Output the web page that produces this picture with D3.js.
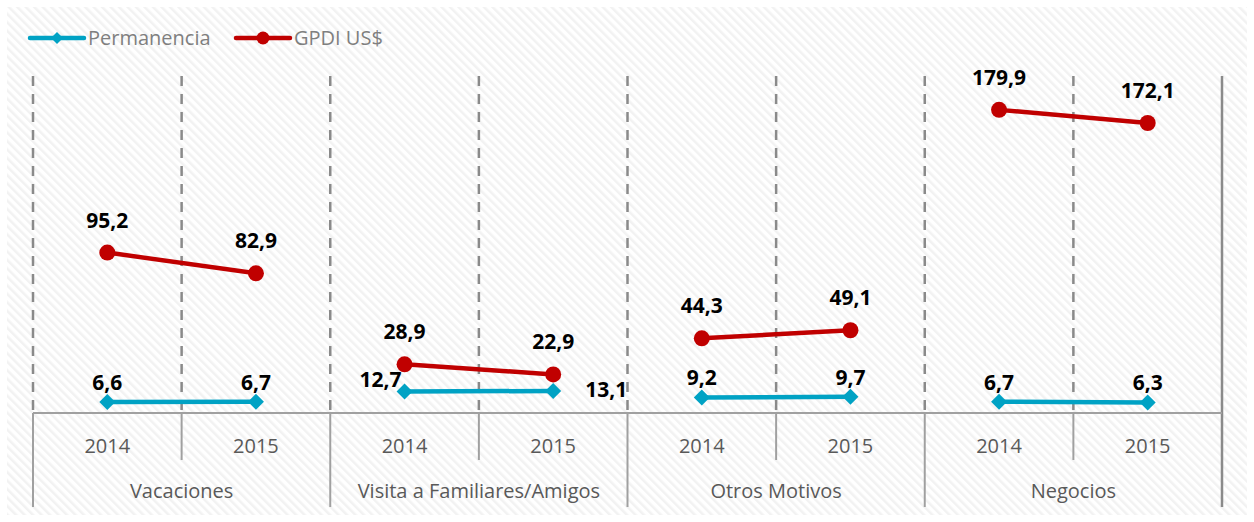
<!DOCTYPE html>
<html>
<head>
<meta charset="utf-8">
<script src="https://cdn.jsdelivr.net/npm/d3@7"></script>
<style>
  body { margin: 0; background: #fff; }
  text { font-family: "Open Sans", "Noto Sans", sans-serif; }
</style>
</head>
<body>
<div id="chart"></div>
<script>
// motivos de viaje y años
const groups = ['Vacaciones', 'Visita a Familiares/Amigos', 'Otros Motivos', 'Negocios'];
const years  = ['2014', '2015'];
// valores por punto (grupo x año)
const permanencia = [6.6, 6.7, 12.7, 13.1, 9.2, 9.7, 6.7, 6.3];
const gpdi        = [95.2, 82.9, 28.9, 22.9, 44.3, 49.1, 179.9, 172.1];
// donde va la etiqueta de permanencia (como en el excel original)
const permLabelPos = ['above', 'above', 'left', 'right', 'above', 'above', 'above', 'above'];

const width  = 1254;
const height = 522;
const plot   = { left: 33, right: 1222, top: 76, bottom: 413 };
const blue = '#00a2c4';
const red  = '#c00000';

const fmt = v => d3.format('.1f')(v).replace('.', ',');

// cada punto = grupo + año
const points = [];
groups.forEach((g, gi) => years.forEach((y, yi) => points.push({ key: gi + '-' + y, group: g, year: y, i: gi * years.length + yi })));

const x = d3.scaleBand()
  .domain(points.map(d => d.key))
  .range([plot.left, plot.right]);
const xg = d3.scaleBand()
  .domain(groups)
  .range([plot.left, plot.right]);
const y = d3.scaleLinear()
  .domain([0, 200])
  .range([plot.bottom, plot.top]);

const cx = d => x(d.key) + x.bandwidth() / 2;

// rombo hecho a mano, los de d3 quedan chicos
const diamondPath = r => `M0,${-r}L${r},0L0,${r}L${-r},0Z`;

const svg = d3.select('#chart').append('svg')
  .attr('width', width)
  .attr('height', height);

// fondo rayado
const defs = svg.append('defs');
const pat = defs.append('pattern')
  .attr('id', 'hatch')
  .attr('patternUnits', 'userSpaceOnUse')
  .attr('width', 6).attr('height', 6)
  .attr('patternTransform', 'rotate(-45)');
pat.append('rect').attr('width', 6).attr('height', 6).attr('fill', '#fff');
pat.append('rect').attr('width', 2.5).attr('height', 6).attr('fill', '#f2f2f2');

svg.append('rect')
  .attr('x', 7).attr('y', 7)
  .attr('width', width - 14).attr('height', height - 14)
  .attr('fill', 'url(#hatch)');

// lineas verticales punteadas
const boundaries = points.map(d => x(d.key));
svg.append('g').selectAll('line')
  .data(boundaries)
  .join('line')
  .attr('x1', d => d).attr('x2', d => d)
  .attr('y1', plot.top).attr('y2', plot.bottom)
  .attr('stroke', '#8a8a8a')
  .attr('stroke-width', 2.5)
  .attr('stroke-dasharray', '10,8');

// borde derecho solido
svg.append('line')
  .attr('x1', plot.right).attr('x2', plot.right)
  .attr('y1', plot.top).attr('y2', 507)
  .attr('stroke', '#8a8a8a').attr('stroke-width', 2.5);

// eje x con dos niveles
const axisCol = '#a0a0a0';
svg.append('line')
  .attr('x1', plot.left).attr('x2', plot.right)
  .attr('y1', plot.bottom).attr('y2', plot.bottom)
  .attr('stroke', axisCol).attr('stroke-width', 2);

svg.append('g').selectAll('line')
  .data(groups)
  .join('line')
  .attr('x1', d => xg(d)).attr('x2', d => xg(d))
  .attr('y1', plot.bottom).attr('y2', 507)
  .attr('stroke', axisCol).attr('stroke-width', 2);

svg.append('g').selectAll('line')
  .data(points.filter(d => d.year !== years[0]))
  .join('line')
  .attr('x1', d => x(d.key)).attr('x2', d => x(d.key))
  .attr('y1', plot.bottom).attr('y2', 460)
  .attr('stroke', axisCol).attr('stroke-width', 2);

svg.append('g').selectAll('text')
  .data(points)
  .join('text')
  .attr('x', cx)
  .attr('y', 453)
  .attr('text-anchor', 'middle')
  .attr('font-size', 20)
  .attr('fill', '#595959')
  .text(d => d.year);

svg.append('g').selectAll('text')
  .data(groups)
  .join('text')
  .attr('x', d => xg(d) + xg.bandwidth() / 2)
  .attr('y', 498)
  .attr('text-anchor', 'middle')
  .attr('font-size', 20)
  .attr('fill', '#595959')
  .text(d => d);

// series, una linea por grupo
function drawSeries(values, color, marker) {
  const g = svg.append('g');
  const line = d3.line().x(cx).y(d => y(values[d.i]));
  groups.forEach(gr => {
    g.append('path')
      .datum(points.filter(p => p.group === gr))
      .attr('d', line)
      .attr('fill', 'none')
      .attr('stroke', color)
      .attr('stroke-width', 4.5);
  });
  if (marker === 'circle') {
    g.selectAll('circle')
      .data(points)
      .join('circle')
      .attr('cx', cx)
      .attr('cy', d => y(values[d.i]))
      .attr('r', 8)
      .attr('fill', color);
  } else {
    g.selectAll('path.mk')
      .data(points)
      .join('path')
      .attr('class', 'mk')
      .attr('d', diamondPath(8))
      .attr('transform', d => `translate(${cx(d)},${y(values[d.i])})`)
      .attr('fill', color);
  }
}
drawSeries(permanencia, blue, 'diamond');
drawSeries(gpdi, red, 'circle');

// etiquetas de datos
svg.append('g').selectAll('text')
  .data(points)
  .join('text')
  .attr('x', cx)
  .attr('y', d => y(gpdi[d.i]) - 25)
  .attr('text-anchor', 'middle')
  .attr('font-size', 21)
  .attr('font-weight', 'bold')
  .attr('fill', '#000')
  .text(d => fmt(gpdi[d.i]));

svg.append('g').selectAll('text')
  .data(points)
  .join('text')
  .attr('x', d => {
    const p = permLabelPos[d.i];
    return p === 'left' ? cx(d) - 3 : p === 'right' ? cx(d) + 32 : cx(d);
  })
  .attr('y', d => {
    const p = permLabelPos[d.i];
    const yy = y(permanencia[d.i]);
    return p === 'left' ? yy - 5 : p === 'right' ? yy + 6 : yy - 12;
  })
  .attr('text-anchor', d => {
    const p = permLabelPos[d.i];
    return p === 'left' ? 'end' : p === 'right' ? 'start' : 'middle';
  })
  .attr('font-size', 21)
  .attr('font-weight', 'bold')
  .attr('fill', '#000')
  .text(d => fmt(permanencia[d.i]));

// leyenda
const legend = svg.append('g');
const items = [
  { name: 'Permanencia', color: blue, marker: 'diamond', x: 30 },
  { name: 'GPDI US$', color: red, marker: 'circle', x: 236 }
];
items.forEach(it => {
  legend.append('line')
    .attr('x1', it.x).attr('x2', it.x + 54)
    .attr('y1', 38).attr('y2', 38)
    .attr('stroke', it.color).attr('stroke-width', 4.5)
    .attr('stroke-linecap', 'round');
  if (it.marker === 'circle') {
    legend.append('circle').attr('cx', it.x + 27).attr('cy', 38).attr('r', 6.5).attr('fill', it.color);
  } else {
    legend.append('path').attr('d', diamondPath(6))
      .attr('transform', `translate(${it.x + 27},38)`).attr('fill', it.color);
  }
  legend.append('text')
    .attr('x', it.x + 58)
    .attr('y', 45)
    .attr('font-size', 20)
    .attr('fill', '#7f7f7f')
    .text(it.name);
});
</script>
</body>
</html>
